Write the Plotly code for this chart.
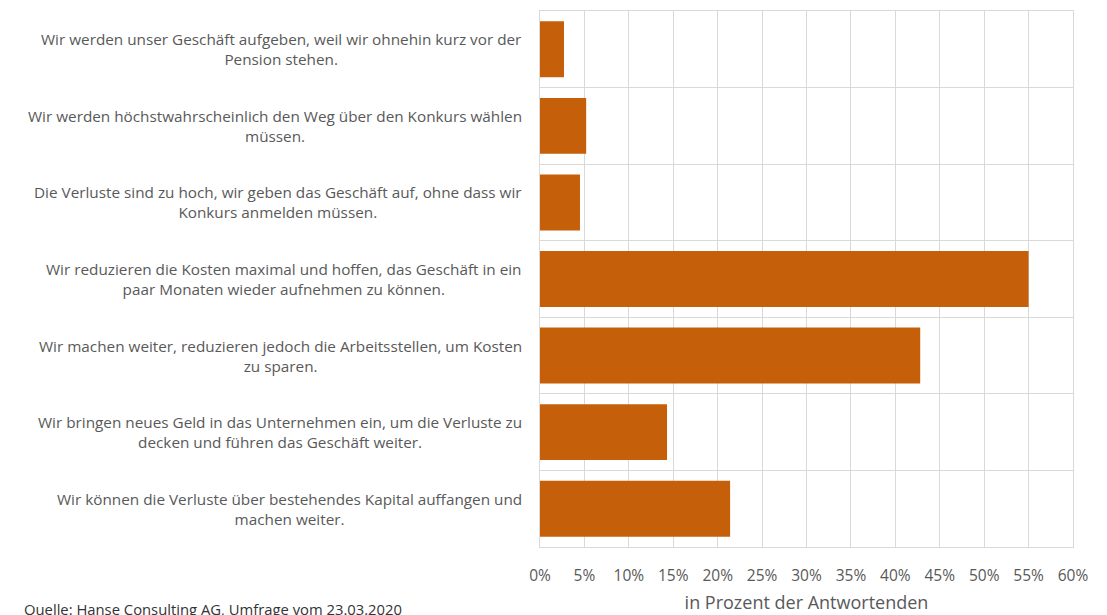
import plotly.graph_objects as go

categories = [
    "Wir werden unser Geschäft aufgeben, weil wir ohnehin kurz vor der<br>Pension stehen.",
    "Wir werden höchstwahrscheinlich den Weg über den Konkurs wählen<br>müssen.",
    "Die Verluste sind zu hoch, wir geben das Geschäft auf, ohne dass wir<br>Konkurs anmelden müssen.",
    "Wir reduzieren die Kosten maximal und hoffen, das Geschäft in ein<br>paar Monaten wieder aufnehmen zu können.",
    "Wir machen weiter, reduzieren jedoch die Arbeitsstellen, um Kosten<br>zu sparen.",
    "Wir bringen neues Geld in das Unternehmen ein, um die Verluste zu<br>decken und führen das Geschäft weiter.",
    "Wir können die Verluste über bestehendes Kapital auffangen und<br>machen weiter.",
]
values = [2.7, 5.2, 4.5, 55.0, 42.8, 14.3, 21.4]
tick_values = [0, 5, 10, 15, 20, 25, 30, 35, 40, 45, 50, 55, 60]
tick_labels = [f"{v}%" for v in tick_values]
x_title = "in Prozent der Antwortenden"
source = "Quelle: Hanse Consulting AG, Umfrage vom 23.03.2020"

TXT = "#595959"
GRID = "#D9D9D9"
FONT = "Open Sans"

fig = go.Figure(go.Bar(
    x=values, y=categories, orientation="h",
    marker=dict(color="#C65F0A", line=dict(width=0)),
    hoverinfo="x+y",
))

annotations = []
for c in categories:
    annotations.append(dict(
        x=0, xref="paper", xshift=-16, y=c, yref="y",
        text=c, showarrow=False, xanchor="right", yanchor="middle",
        align="center", font=dict(family=FONT, size=15.3, color=TXT),
    ))
annotations.append(dict(
    x=0, xref="paper", xshift=-518, y=0, yref="paper", yshift=-50,
    text=source, showarrow=False, xanchor="left", yanchor="top",
    align="left", font=dict(family=FONT, size=14.8, color="#333333"),
))

fig.update_layout(
    width=1099, height=607,
    margin=dict(l=532, r=34, t=3, b=68),
    paper_bgcolor="white", plot_bgcolor="white",
    bargap=0.27,
    showlegend=False,
    font=dict(family=FONT, color=TXT),
    annotations=annotations,
    xaxis=dict(
        range=[0, 60], tickvals=tick_values, ticktext=tick_labels,
        showgrid=True, gridcolor=GRID, gridwidth=1,
        showline=True, linecolor=GRID, mirror=True, zeroline=False,
        ticks="", ticklabelstandoff=14,
        tickfont=dict(family=FONT, size=15.5, color=TXT),
        title=dict(text=x_title, font=dict(family=FONT, size=18, color=TXT), standoff=11),
    ),
    yaxis=dict(
        categoryorder="array", categoryarray=categories, autorange="reversed",
        tickson="boundaries", showgrid=True, gridcolor=GRID, gridwidth=1,
        showline=True, linecolor=GRID, mirror=True,
        showticklabels=False, ticks="",
    ),
)

fig.write_html("out.html")
